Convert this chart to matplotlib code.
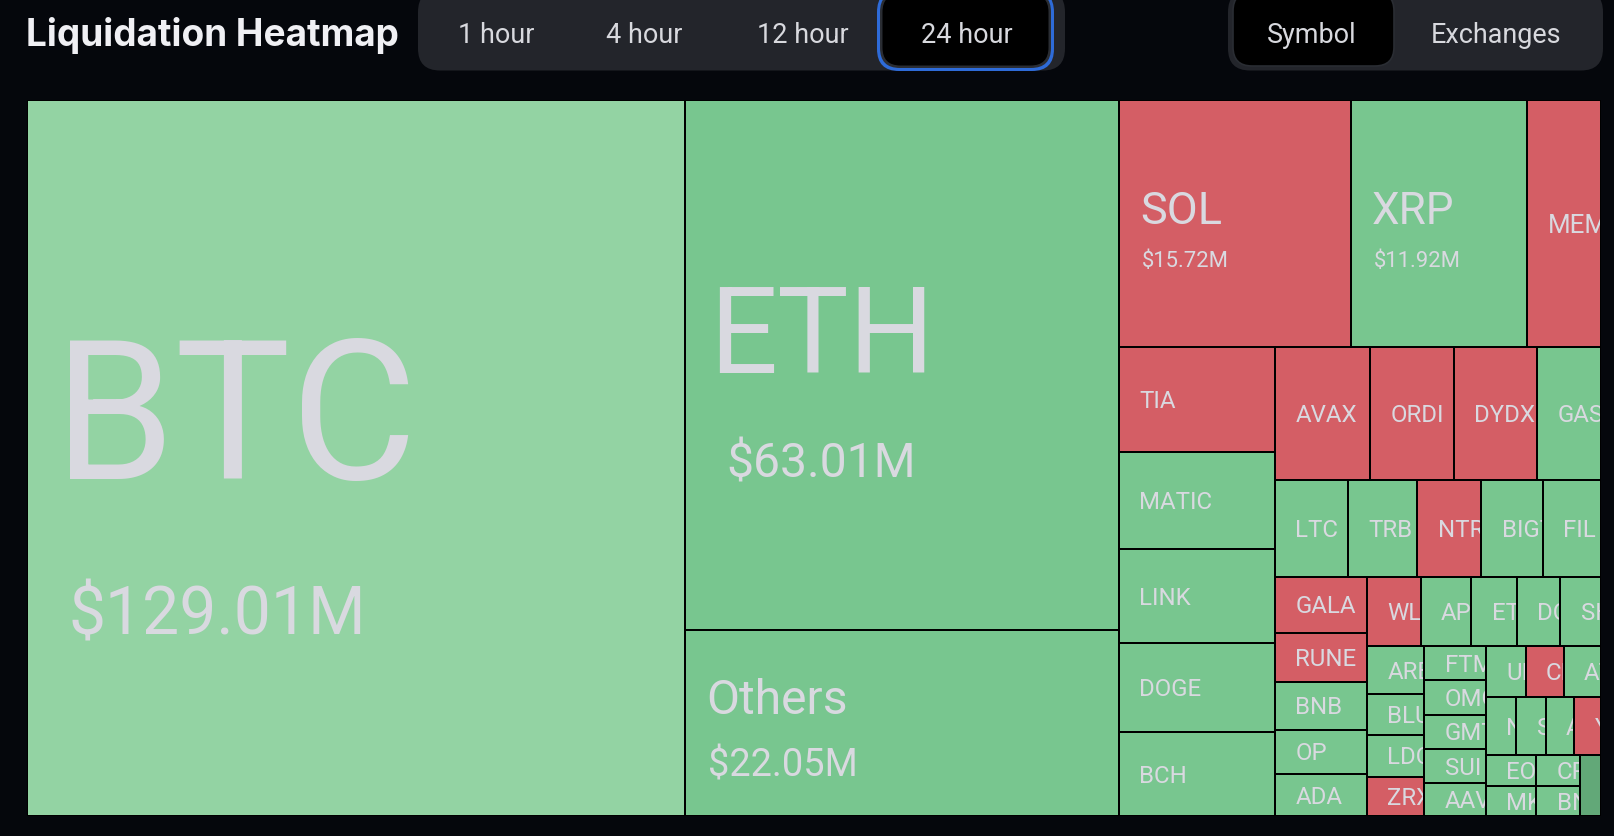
import math
import matplotlib
matplotlib.use("Agg")
import matplotlib.pyplot as plt
from matplotlib.patches import Rectangle, FancyBboxPatch
from matplotlib.transforms import Bbox

# ---------------- data (liquidations, million USD, 24 hour) ----------------
symbols = ["BTC", "ETH", "Others", "SOL", "XRP", "MEME",
           "TIA", "MATIC", "LINK", "DOGE", "BCH",
           "AVAX", "ORDI", "DYDX", "GAS",
           "LTC", "TRB", "NTRN", "BIGTIME", "FIL",
           "GALA", "RUNE", "BNB", "OP", "ADA",
           "WLD", "APT", "ETC", "DOT", "SHIB",
           "ARB", "BLUR", "LDO", "ZRX",
           "FTM", "OMG", "GMT", "SUI", "AAVE",
           "UNI", "CFX", "ATOM",
           "NEAR", "SAND", "AXS", "YGG",
           "EOS", "MKR", "CRV", "BNT", ""]
values_musd = [129.01, 63.01, 22.05, 15.72, 11.92, 5.01,
               4.49, 4.15, 4.02, 3.80, 3.59,
               3.46, 3.06, 3.05, 2.33,
               1.92, 1.84, 1.68, 1.63, 1.53,
               1.41, 1.24, 1.21, 1.11, 1.06,
               1.02, 0.96, 0.87, 0.83, 0.77,
               0.75, 0.65, 0.65, 0.62,
               0.58, 0.58, 0.58, 0.57, 0.56,
               0.55, 0.53, 0.52,
               0.48, 0.47, 0.45, 0.43,
               0.43, 0.41, 0.37, 0.36, 0.35]
# g = green, r = red, o = small grouped remainder
tone = ["g", "g", "g", "r", "g", "r",
        "r", "g", "g", "g", "g",
        "r", "r", "r", "g",
        "g", "g", "r", "g", "g",
        "r", "r", "g", "g", "g",
        "r", "g", "g", "g", "g",
        "g", "g", "g", "r",
        "g", "g", "g", "g", "g",
        "g", "r", "g",
        "g", "g", "g", "r",
        "g", "g", "g", "g", "o"]
highlighted = "BTC"
time_tabs = ["1 hour", "4 hour", "12 hour", "24 hour"]
selected_tab = "24 hour"
view_tabs = ["Symbol", "Exchanges"]
selected_view = "Symbol"
title = "Liquidation Heatmap"

# ---------------- style ----------------
BG = "#05070c"
PILL = "#23252b"
BLUE = "#2e6bd8"
TXT = "#d9d9e0"
COLORS = {"g": "#78c68f", "r": "#d45e65", "o": "#62a878"}
HILITE = "#93d3a3"
NAME_PX = {"BTC": 194, "ETH": 120, "Others": 48, "SOL": 45, "XRP": 44, "MEME": 26}
VALUE_PX = {"BTC": 66, "ETH": 48, "Others": 38, "SOL": 22, "XRP": 22}
VALUE_PAD = {"BTC": 43, "ETH": 43}
DEFAULT_PX = 24
FONT = "Roboto"
W, H = 1614, 836
TREEMAP = (27.0, 100.0, 1574.0, 716.0)
GAP = 1.0


def pt(px):
    return px * 72.0 / 100.0


def squarify(vals, x, y, w, h, ratio=0.5 * (1 + 5 ** 0.5)):
    """Squarified treemap (same procedure as ECharts' treemap layout)."""
    total = float(sum(vals))
    areas = [v / total * w * h for v in vals]
    rect = [x, y, w, h]
    out = [None] * len(vals)

    def worst(row, row_area, fixed):
        amax = max(areas[j] for j in row)
        amin = min(areas[j] for j in row)
        sq = row_area * row_area
        f = fixed * fixed * ratio
        return max(f * amax / sq, sq / (f * amin))

    def position(row, row_area, fixed, flush):
        horiz = fixed == rect[2]
        other = row_area / fixed
        lim = rect[3] if horiz else rect[2]
        if flush or other > lim:
            other = lim
        last = rect[0] if horiz else rect[1]
        end = rect[0] + rect[2] if horiz else rect[1] + rect[3]
        for k, j in enumerate(row):
            step = areas[j] / other
            remain = end - last
            m = remain if (k == len(row) - 1 or remain < step) else step
            if horiz:
                out[j] = (last, rect[1], m, other)
            else:
                out[j] = (rect[0], last, other, m)
            last += m
        if horiz:
            rect[1] += other
            rect[3] -= other
        else:
            rect[0] += other
            rect[2] -= other

    row, row_area = [], 0.0
    fixed = min(w, h)
    best = math.inf
    i = 0
    while i < len(vals):
        row.append(i)
        row_area += areas[i]
        s = worst(row, row_area, fixed)
        if s <= best:
            i += 1
            best = s
        else:
            row.pop()
            row_area -= areas[i]
            position(row, row_area, fixed, False)
            fixed = min(rect[2], rect[3])
            row, row_area, best = [], 0.0, math.inf
    if row:
        position(row, row_area, fixed, True)
    return out


fig = plt.figure(figsize=(W / 100, H / 100), dpi=100, facecolor=BG)
ax = fig.add_axes([0, 0, 1, 1])
ax.set_xlim(0, W)
ax.set_ylim(H, 0)
ax.axis("off")


def disp_bbox(x0, y0, x1, y1):
    p = ax.transData.transform([[x0, y0], [x1, y1]])
    return Bbox.from_extents(min(p[0][0], p[1][0]), min(p[0][1], p[1][1]),
                             max(p[0][0], p[1][0]), max(p[0][1], p[1][1]))


# ---------------- treemap ----------------
tx, ty, tw, th = TREEMAP
ax.add_patch(Rectangle((tx, ty), tw, th, facecolor="black", edgecolor="none", zorder=1))
layout = squarify(values_musd, tx, ty, tw, th)

for sym, val, tn, (x, y, w, h) in zip(symbols, values_musd, tone, layout):
    col = HILITE if sym == highlighted else COLORS[tn]
    ax.add_patch(Rectangle((x + GAP, y + GAP), w - 2 * GAP, h - 2 * GAP,
                           facecolor=col, edgecolor="none", zorder=2))
    if not sym:
        continue
    clip = disp_bbox(x + GAP, y + GAP, x + w - GAP, y + h - GAP)
    npx = NAME_PX.get(sym, DEFAULT_PX)
    npad = 19.5 + 0.09 * npx
    nx = x + npad - 0.05 * npx
    cy = y + h / 2.0
    texts = []
    if sym in VALUE_PX:
        vpx = VALUE_PX[sym]
        block = 1.519 * npx + 1.33 * vpx
        nb = cy - block / 2.0 + 1.092 * npx
        vb = nb + 0.427 * npx + 1.1 * vpx
        vx = x + VALUE_PAD.get(sym, npad) - 0.03 * vpx
        texts.append(ax.text(nx, nb, sym, fontsize=pt(npx), family=FONT, color=TXT,
                             ha="left", va="baseline", zorder=3))
        texts.append(ax.text(vx, vb, f"${val:.2f}M", fontsize=pt(vpx), family=FONT,
                             color=TXT, ha="left", va="baseline", zorder=3))
    else:
        texts.append(ax.text(nx, cy + 0.711 * npx / 2.0, sym, fontsize=pt(npx),
                             family=FONT, color=TXT, ha="left", va="baseline",
                             zorder=3))
    for t in texts:
        t.set_clip_box(clip)
        t.set_clip_on(True)

# ---------------- header ----------------
ax.text(26, 46, title, fontsize=pt(37), family="Inter", fontweight="bold",
        color="#f0f0f4", ha="left", va="baseline", zorder=5)


def pill(x0, x1, y0, y1, r, fc, ec="none", lw=0, z=4):
    ax.add_patch(FancyBboxPatch((x0, y0), x1 - x0, y1 - y0,
                                boxstyle=f"round,pad=0,rounding_size={r}",
                                facecolor=fc, edgecolor=ec, linewidth=lw, zorder=z))


# time range switch
pill(418, 1065, -10, 70.5, 22, PILL)
tab_x = [458, 606, 757, 921]
for lab, xx in zip(time_tabs, tab_x):
    if lab == selected_tab:
        pill(877, 1054, -10, 71, 22, BLUE, z=4.1)
        pill(880, 1051, -8, 68, 20, "#2a2d33", z=4.2)
        pill(882.5, 1048.5, -6, 65.5, 18, "#000000", z=4.3)
    ax.text(xx, 43, lab, fontsize=pt(27), family=FONT, color="#d8d9de",
            ha="left", va="baseline", zorder=6)

# symbol / exchange switch
pill(1228, 1603, -10, 70.5, 22, PILL)
view_x = [1267, 1431]
for lab, xx in zip(view_tabs, view_x):
    if lab == selected_view:
        pill(1233, 1394, -8, 66, 19, "#000000", ec="#2a2d33", lw=1.2, z=4.3)
    ax.text(xx, 43, lab, fontsize=pt(27), family=FONT, color="#d8d9de",
            ha="left", va="baseline", zorder=6)

fig.savefig("out.png", dpi=100, facecolor=BG)
